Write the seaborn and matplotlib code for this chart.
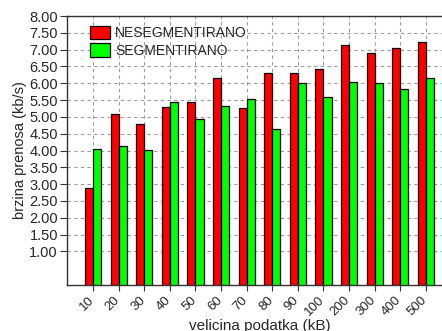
import matplotlib
matplotlib.use("Agg")
import matplotlib.pyplot as plt
import matplotlib.transforms as mtransforms
import numpy as np
import pandas as pd
import seaborn as sns

# Transfer speed per data size, unsegmented vs segmented
sizes = ["10", "20", "30", "40", "50", "60", "70", "80", "90", "100", "200", "300", "400", "500"]
nesegmentirano = [2.88, 5.09, 4.79, 5.30, 5.45, 6.16, 5.27, 6.29, 6.29, 6.41, 7.15, 6.91, 7.04, 7.22]
segmentirano = [4.05, 4.14, 4.01, 5.45, 4.94, 5.32, 5.53, 4.65, 6.01, 5.59, 6.03, 6.01, 5.83, 6.16]
series_names = ["NESEGMENTIRANO", "SEGMENTIRANO"]
y_ticks = [1.00, 1.50, 2.00, 2.50, 3.00, 3.50, 4.00, 4.50, 5.00, 5.50, 6.00, 6.50, 7.00, 7.50, 8.00]

df = pd.DataFrame({
    "size": sizes * 2,
    "speed": nesegmentirano + segmentirano,
    "series": [series_names[0]] * len(sizes) + [series_names[1]] * len(sizes),
})

sns.set_style("white")
plt.rcParams["font.family"] = ["Liberation Sans", "DejaVu Sans"]

fig = plt.figure(figsize=(4.42, 3.31), dpi=100)
ax = fig.add_axes([67 / 442, 1 - 285 / 331, 375 / 442, 269 / 331])

sns.barplot(data=df, x="size", y="speed", hue="series", order=sizes,
            hue_order=series_names, palette=["#ff0000", "#00ff00"],
            width=0.63, gap=0, edgecolor="black", linewidth=0.9,
            saturation=1, ax=ax, zorder=3)

ax.set_ylim(0, 8)
ax.set_xlim(-1.02, 13.63)
ax.set_yticks(y_ticks)
ax.set_yticklabels([f"{v:.2f}" for v in y_ticks], fontsize=10.5)
ax.set_xticks(range(len(sizes)))
ax.set_xticklabels(sizes, rotation=45, ha="right", rotation_mode="anchor", fontsize=9.5)
ax.tick_params(axis="y", direction="out", length=5, width=0.8, color="#333333",
               left=True, pad=1.5)
ax.tick_params(axis="x", direction="out", length=4, width=0.8, color="#333333",
               bottom=True, pad=2.5)

# nudge the rotated size labels slightly left of their ticks
shift = mtransforms.ScaledTranslation(-5 / 100, 0, fig.dpi_scale_trans)
for lbl in ax.get_xticklabels():
    lbl.set_transform(lbl.get_transform() + shift)

ax.grid(True, color="#9a9a9a", linestyle=(0, (3, 3)), linewidth=0.8, zorder=0)
ax.set_axisbelow(True)

for side in ["left", "bottom", "top"]:
    ax.spines[side].set_visible(True)
    ax.spines[side].set_color("#333333")
    ax.spines[side].set_linewidth(1.0)
ax.spines["right"].set_visible(False)

ax.set_ylabel("brzina prenosa (kb/s)", fontsize=10.5, labelpad=2)
ax.set_xlabel("velicina podatka (kB)", fontsize=11)
ax.xaxis.set_label_coords(0.515, -0.125)

leg = ax.legend(loc="upper left", bbox_to_anchor=(0.047, 0.985), frameon=False,
                fontsize=10, handlelength=1.45, handleheight=1.1,
                handletextpad=0.35, labelspacing=0.25, borderaxespad=0)

fig.savefig("out.png", dpi=100)
